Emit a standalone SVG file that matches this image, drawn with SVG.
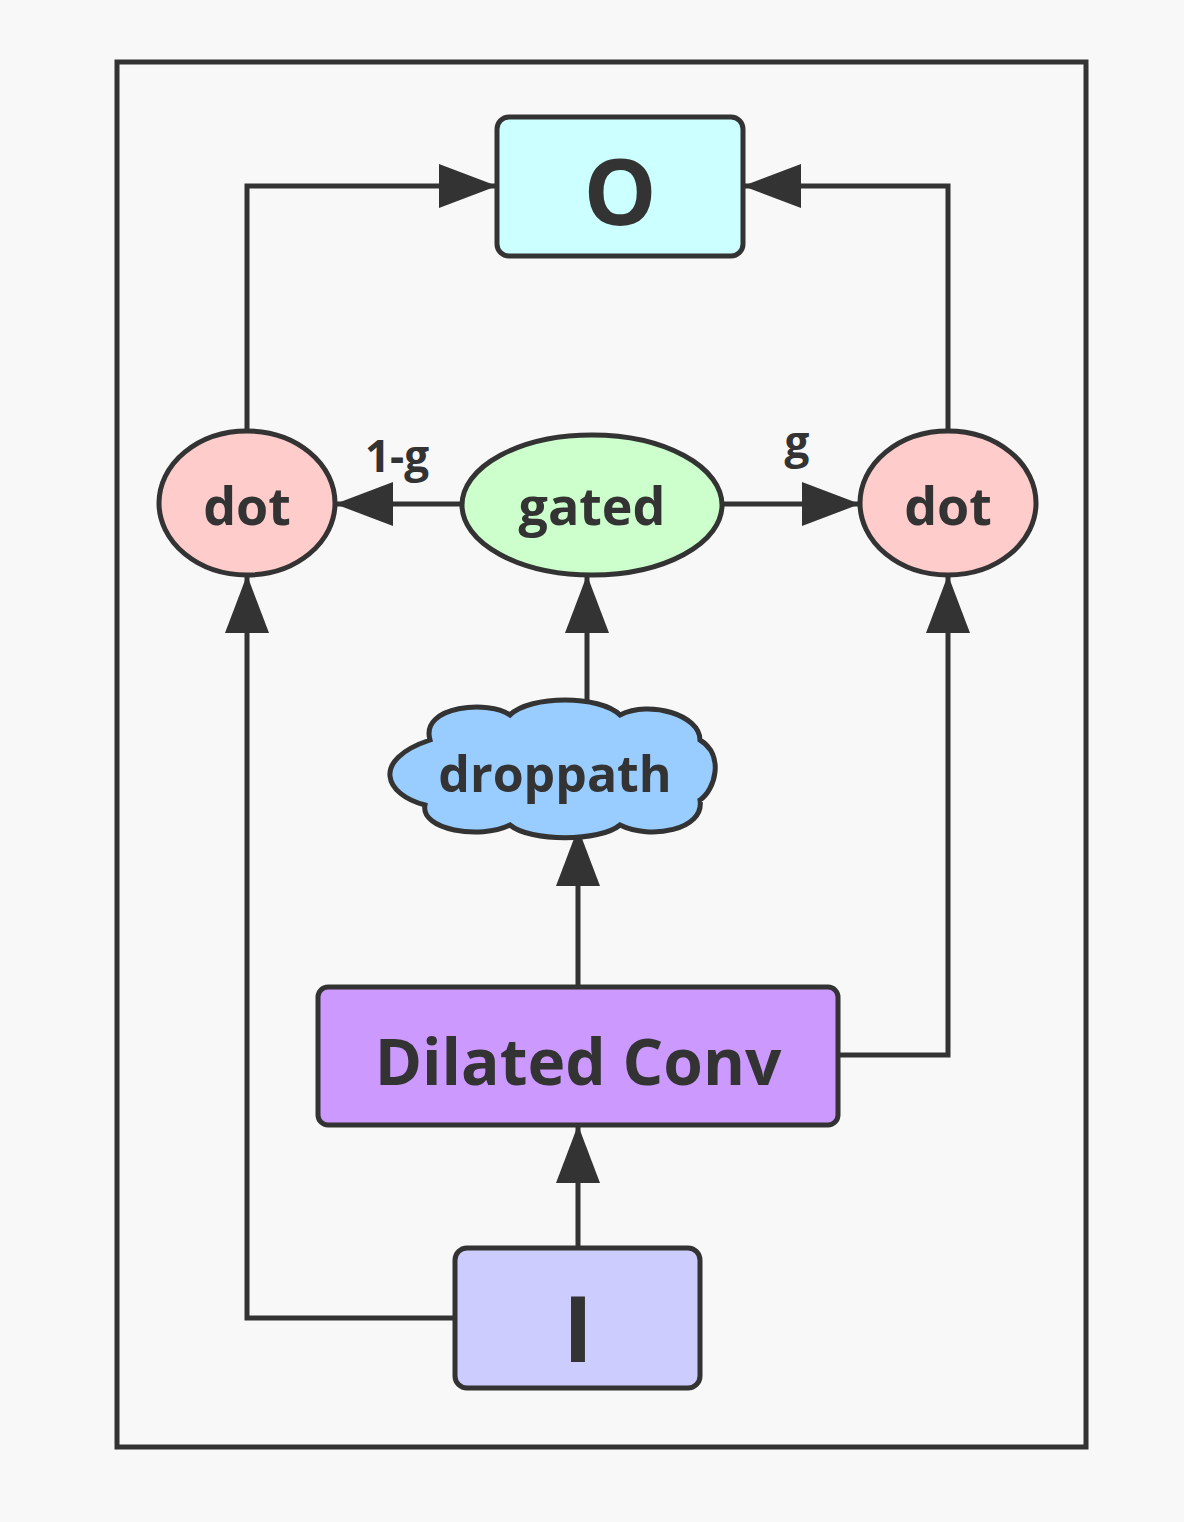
<svg xmlns="http://www.w3.org/2000/svg" width="1184" height="1522" viewBox="0 0 1184 1522">
<style>
.n{stroke:#333;stroke-width:5}
.t{font-family:"Open Sans","Liberation Sans",sans-serif;font-weight:bold;fill:#333;text-anchor:middle}
.c{fill:none;stroke:#333;stroke-width:5}
</style>
<defs>
<marker id="a" markerUnits="userSpaceOnUse" markerWidth="60" markerHeight="44" refX="56" refY="22" orient="auto">
<path d="M0,0 L58,22 L0,44 Z" fill="#333"/>
</marker>
</defs>
<rect width="1184" height="1522" fill="#f8f8f8"/>
<rect x="117" y="62" width="969" height="1385" fill="none" stroke="#333" stroke-width="5"/>
<g id="connectors">
<path class="c" d="M247,431 V186 H495" marker-end="url(#a)"/>
<path class="c" d="M948,431 V186 H745" marker-end="url(#a)"/>
<path class="c" d="M462,504 H337" marker-end="url(#a)"/>
<path class="c" d="M722,504 H858" marker-end="url(#a)"/>
<path class="c" d="M587,705 V577" marker-end="url(#a)"/>
<path class="c" d="M578,987 V830" marker-end="url(#a)"/>
<path class="c" d="M838,1055 H948 V577" marker-end="url(#a)"/>
<path class="c" d="M578,1248 V1127" marker-end="url(#a)"/>
<path class="c" d="M455,1318 H247 V577" marker-end="url(#a)"/>
<text class="t" x="397" y="472" font-size="44">1-g</text>
<text class="t" x="797" y="458" font-size="44">g</text>
</g>
<g id="O"><rect class="n" x="497" y="117" width="246" height="139" rx="12" fill="#ccffff"/><text class="t" x="620" y="225" font-size="92">O</text></g>
<g id="dotL"><ellipse class="n" cx="247" cy="503" rx="88" ry="72" fill="#ffcccc"/><text class="t" x="247" y="525" font-size="52">dot</text></g>
<g id="gated"><ellipse class="n" cx="592" cy="505" rx="130" ry="70" fill="#ccffcc"/><text class="t" x="592" y="525" font-size="52">gated</text></g>
<g id="dotR"><ellipse class="n" cx="948" cy="503" rx="88" ry="72" fill="#ffcccc"/><text class="t" x="948" y="525" font-size="52">dot</text></g>
<g id="droppath"><path class="n" fill="#99ccff" d="M430,740 C420,705 490,700 510,715 C530,695 600,695 620,715 C650,700 700,715 700,740 C725,755 715,790 700,800 C705,830 650,840 620,825 C600,842 530,842 510,825 C480,840 420,830 425,805 C385,795 370,760 430,740 Z"/><text class="t" x="555" y="792" font-size="50">droppath</text></g>
<g id="dilated"><rect class="n" x="318" y="987" width="520" height="138" rx="10" fill="#cc99ff"/><text class="t" x="578" y="1085" font-size="64">Dilated Conv</text></g>
<g id="I"><rect class="n" x="455" y="1248" width="245" height="140" rx="12" fill="#ccccff"/><text class="t" x="578" y="1362" font-size="92">I</text></g>
</svg>
